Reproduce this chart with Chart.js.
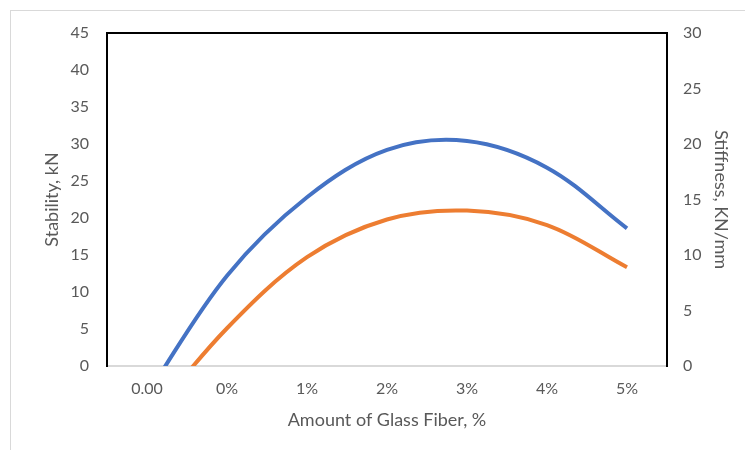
<!DOCTYPE html>
<html>
<head>
<meta charset="utf-8">
<script src="https://cdn.jsdelivr.net/npm/chart.js@4.4.1/dist/chart.umd.min.js"></script>
<style>
  body { margin: 0; background: #fff; }
  #wrap { position: relative; width: 745px; height: 450px; }
  #frame { position: absolute; left: 10px; top: 10px; right: 0; bottom: 0;
           border-left: 1px solid #d9d9d9; border-top: 1px solid #d9d9d9; }
  canvas { position: absolute; left: 0; top: 0; }
</style>
</head>
<body>
<div id="wrap">
  <div id="frame"></div>
  <canvas id="chartFibra" width="745" height="450"></canvas>
</div>
<script>
const categorias = ['0.00', '0%', '1%', '2%', '3%', '4%', '5%'];
const estabilidad = [-3.8, 12.2, 22.8, 29.2, 30.4, 26.8, 18.6];
const rigidez = [-5.0, 3.4, 9.8, 13.2, 14.0, 12.7, 8.9];
const ticksEstabilidad = [0, 5, 10, 15, 20, 25, 30, 35, 40, 45];
const ticksRigidez = [0, 5, 10, 15, 20, 25, 30];

const gris = '#595959';
const fuente = { family: 'Lato', size: 16 };
const fuenteTitulo = { family: 'Lato', size: 18 };

// linea negra arriba del area del grafico
const bordeArriba = {
  id: 'bordeArriba',
  afterDraw(chart) {
    const a = chart.chartArea;
    const c = chart.ctx;
    c.save();
    c.strokeStyle = '#000';
    c.lineWidth = 2;
    c.beginPath();
    c.moveTo(a.left - 1, a.top);
    c.lineTo(a.right + 1, a.top);
    c.stroke();
    c.restore();
  }
};

const ctx = document.getElementById('chartFibra');

new Chart(ctx, {
  type: 'line',
  data: {
    labels: categorias,
    datasets: [{
      label: 'Stability, kN',
      data: estabilidad,
      borderColor: '#4472C4',
      borderWidth: 4,
      pointRadius: 0,
      tension: 0.35,
      yAxisID: 'y'
    }, {
      label: 'Stiffness, KN/mm',
      data: rigidez,
      borderColor: '#ED7D31',
      borderWidth: 4,
      pointRadius: 0,
      tension: 0.35,
      yAxisID: 'y1'
    }]
  },
  options: {
    responsive: false,
    animation: false,
    layout: { padding: { top: 33, left: 0, right: 0, bottom: 0 } },
    plugins: { legend: { display: false }, tooltip: { enabled: false } },
    scales: {
      x: {
        offset: true,
        grid: { display: false, drawTicks: false },
        border: { color: '#d9d9d9', width: 2 },
        ticks: { color: gris, font: fuente, padding: 13, maxRotation: 0 },
        title: { display: true, text: 'Amount of Glass Fiber, %', color: gris,
                 font: fuenteTitulo, padding: { bottom: 19 } },
        afterFit: s => { s.height = 84; }
      },
      y: {
        position: 'left',
        min: 0, max: 45,
        afterBuildTicks: s => { s.ticks = ticksEstabilidad.map(v => ({ value: v })); },
        grid: { display: false, drawTicks: false },
        border: { color: '#000', width: 2 },
        ticks: { color: gris, font: fuente, padding: 18 },
        title: { display: true, text: 'Stability, kN', color: gris,
                 font: fuenteTitulo, padding: { top: 41 } },
        afterFit: s => { s.width = 107; }
      },
      y1: {
        position: 'right',
        min: 0, max: 30,
        afterBuildTicks: s => { s.ticks = ticksRigidez.map(v => ({ value: v })); },
        grid: { display: false, drawTicks: false },
        border: { color: '#000', width: 2 },
        ticks: { color: gris, font: fuente, padding: 16 },
        title: { display: true, text: 'Stiffness, KN/mm', color: gris,
                 font: fuenteTitulo, padding: { top: 13 } },
        afterFit: s => { s.width = 78; }
      }
    }
  },
  plugins: [bordeArriba]
});
</script>
</body>
</html>
